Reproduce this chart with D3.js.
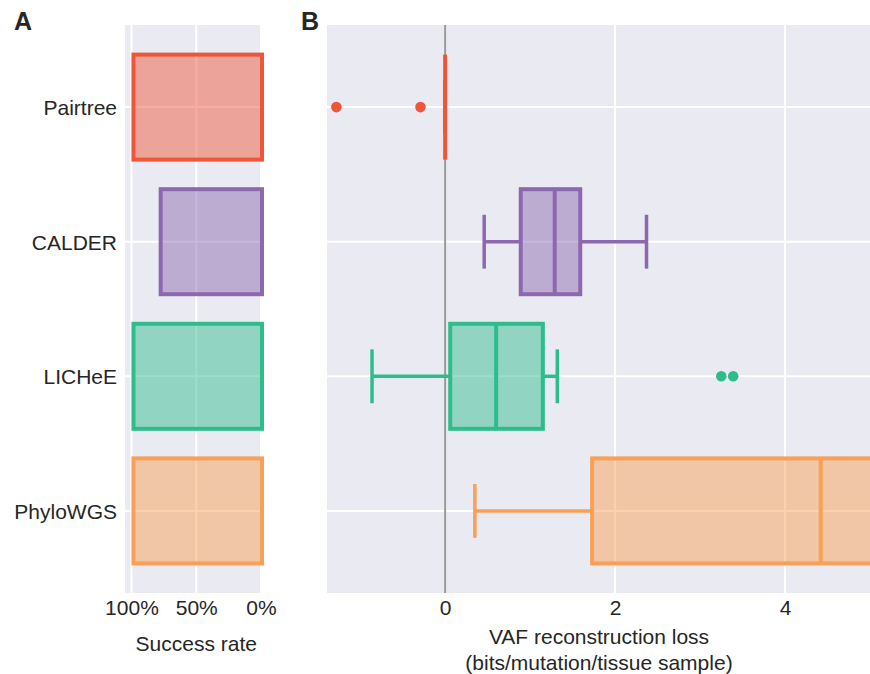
<!DOCTYPE html>
<html>
<head>
<meta charset="utf-8">
<script src="https://cdn.jsdelivr.net/npm/d3@7"></script>
<style>
  body { margin: 0; background: #fff; }
  text { font-family: "Liberation Sans", Arial, sans-serif; fill: #262626; }
</style>
</head>
<body>
<div id="chart"></div>
<script>
// data
const methods = ["Pairtree", "CALDER", "LICHeE", "PhyloWGS"];
const successRate = [1.0, 0.79, 1.0, 1.0];
const whiskerLow = [0, 0.46, -0.86, 0.35];
const q1 = [0, 0.89, 0.06, 1.73];
const median = [0, 1.29, 0.60, 4.42];
const q3 = [0, 1.59, 1.15, 5.8];
const whiskerHigh = [0, 2.37, 1.32, 8.0];
const outliers = [[-1.28, -0.29], [], [3.25, 3.39], []];
const rateTicks = [1, 0.5, 0];
const lossTicks = [0, 2, 4];
const strokeColors = ["#ef5538", "#8c68af", "#2dbd8b", "#f99f56"];

const W = 870, H = 674;
const plotTop = 25, plotBottom = 593;
const bg = "#eaeaf2";
const fs = "21px";

const svg = d3.select("#chart").append("svg")
  .attr("width", W).attr("height", H);

const y = d3.scalePoint().domain(methods).range([plotTop, plotBottom]).padding(0.61);
const step = y.step();
const boxH = step * 0.81;

// ---------- panel A ----------
const xa = d3.scaleLinear().domain([1.05, 0]).range([125, 261]);
const gA = svg.append("g");
gA.append("rect").attr("x", xa.range()[0]).attr("y", plotTop)
  .attr("width", xa.range()[1] - xa.range()[0]).attr("height", plotBottom - plotTop)
  .attr("fill", bg);
gA.selectAll(".vgrid").data(rateTicks).enter().append("line")
  .attr("x1", d => xa(d)).attr("x2", d => xa(d))
  .attr("y1", plotTop).attr("y2", plotBottom)
  .attr("stroke", "#fff").attr("stroke-width", 2);
gA.selectAll(".hgrid").data(methods).enter().append("line")
  .attr("x1", xa.range()[0]).attr("x2", xa.range()[1])
  .attr("y1", d => y(d)).attr("y2", d => y(d))
  .attr("stroke", "#fff").attr("stroke-width", 2);

gA.selectAll(".bar").data(methods).enter().append("rect")
  .attr("x", (d, i) => xa(successRate[i]) + 2)
  .attr("y", d => y(d) - boxH / 2 + 2)
  .attr("width", (d, i) => xa(0) - xa(successRate[i]) - 1)
  .attr("height", boxH - 4)
  .attr("fill", (d, i) => strokeColors[i]).attr("fill-opacity", 0.48)
  .attr("stroke", (d, i) => strokeColors[i]).attr("stroke-width", 4);

const axA = gA.append("g").attr("transform", "translate(0," + plotBottom + ")")
  .call(d3.axisBottom(xa).tickValues(rateTicks).tickSize(0).tickPadding(7)
    .tickFormat(d => Math.round(d * 100) + "%"));
axA.select(".domain").remove();
axA.selectAll("text").style("font-size", fs).attr("fill", "#262626");

const ayA = gA.append("g").attr("transform", "translate(" + 117 + ",0)")
  .call(d3.axisLeft(y).tickSize(0).tickPadding(0));
ayA.select(".domain").remove();
ayA.selectAll("text").style("font-size", fs).attr("fill", "#262626").attr("dy", "0.35em");

gA.append("text").attr("x", (xa(1) + xa(0)) / 2).attr("y", 651)
  .attr("text-anchor", "middle").style("font-size", fs).text("Success rate");
gA.append("text").attr("x", 14).attr("y", 30)
  .style("font-size", "25px").style("font-weight", "bold").text("A");

// ---------- panel B ----------
const xb = d3.scaleLinear().domain([-1.39, 5]).range([327, 870]);
const gB = svg.append("g");
gB.append("defs").append("clipPath").attr("id", "clipB")
  .append("rect").attr("x", 327).attr("y", plotTop).attr("width", 870 - 327).attr("height", plotBottom - plotTop);
gB.append("rect").attr("x", 327).attr("y", plotTop)
  .attr("width", 870 - 327).attr("height", plotBottom - plotTop).attr("fill", bg);
gB.selectAll(".vgrid").data(lossTicks).enter().append("line")
  .attr("x1", d => xb(d)).attr("x2", d => xb(d))
  .attr("y1", plotTop).attr("y2", plotBottom)
  .attr("stroke", "#fff").attr("stroke-width", 2);
gB.selectAll(".hgrid").data(methods).enter().append("line")
  .attr("x1", 327).attr("x2", 870)
  .attr("y1", d => y(d)).attr("y2", d => y(d))
  .attr("stroke", "#fff").attr("stroke-width", 2);
gB.append("line").attr("x1", xb(0)).attr("x2", xb(0))
  .attr("y1", plotTop).attr("y2", plotBottom)
  .attr("stroke", "#999").attr("stroke-width", 2);

const plot = gB.append("g").attr("clip-path", "url(#clipB)");
methods.forEach((m, i) => {
  const c = strokeColors[i], cy = y(m), g = plot.append("g");
  // whiskers
  g.append("line").attr("x1", xb(whiskerLow[i])).attr("x2", xb(q1[i]))
    .attr("y1", cy).attr("y2", cy).attr("stroke", c).attr("stroke-width", 3.5);
  g.append("line").attr("x1", xb(q3[i])).attr("x2", xb(whiskerHigh[i]))
    .attr("y1", cy).attr("y2", cy).attr("stroke", c).attr("stroke-width", 3.5);
  [whiskerLow[i], whiskerHigh[i]].forEach(v => {
    g.append("line").attr("x1", xb(v)).attr("x2", xb(v))
      .attr("y1", cy - step * 0.2).attr("y2", cy + step * 0.2)
      .attr("stroke", c).attr("stroke-width", 3.5);
  });
  // box
  g.append("rect").attr("x", xb(q1[i])).attr("y", cy - boxH / 2 + 2)
    .attr("width", xb(q3[i]) - xb(q1[i])).attr("height", boxH - 4)
    .attr("fill", c).attr("fill-opacity", 0.48)
    .attr("stroke", c).attr("stroke-width", 4);
  g.append("line").attr("x1", xb(median[i])).attr("x2", xb(median[i]))
    .attr("y1", cy - boxH / 2 + 2).attr("y2", cy + boxH / 2 - 2)
    .attr("stroke", c).attr("stroke-width", 4);
  g.selectAll("circle").data(outliers[i]).enter().append("circle")
    .attr("cx", d => xb(d)).attr("cy", cy).attr("r", 5.3).attr("fill", c);
});

const axB = gB.append("g").attr("transform", "translate(0," + plotBottom + ")")
  .call(d3.axisBottom(xb).tickValues(lossTicks).tickSize(0).tickPadding(7)
    .tickFormat(d3.format("d")));
axB.select(".domain").remove();
axB.selectAll("text").style("font-size", fs).attr("fill", "#262626");

gB.append("text").attr("x", 599).attr("y", 644)
  .attr("text-anchor", "middle").style("font-size", fs).text("VAF reconstruction loss");
gB.append("text").attr("x", 599).attr("y", 670)
  .attr("text-anchor", "middle").style("font-size", fs).text("(bits/mutation/tissue sample)");
gB.append("text").attr("x", 301).attr("y", 30)
  .style("font-size", "25px").style("font-weight", "bold").text("B");
</script>
</body>
</html>
